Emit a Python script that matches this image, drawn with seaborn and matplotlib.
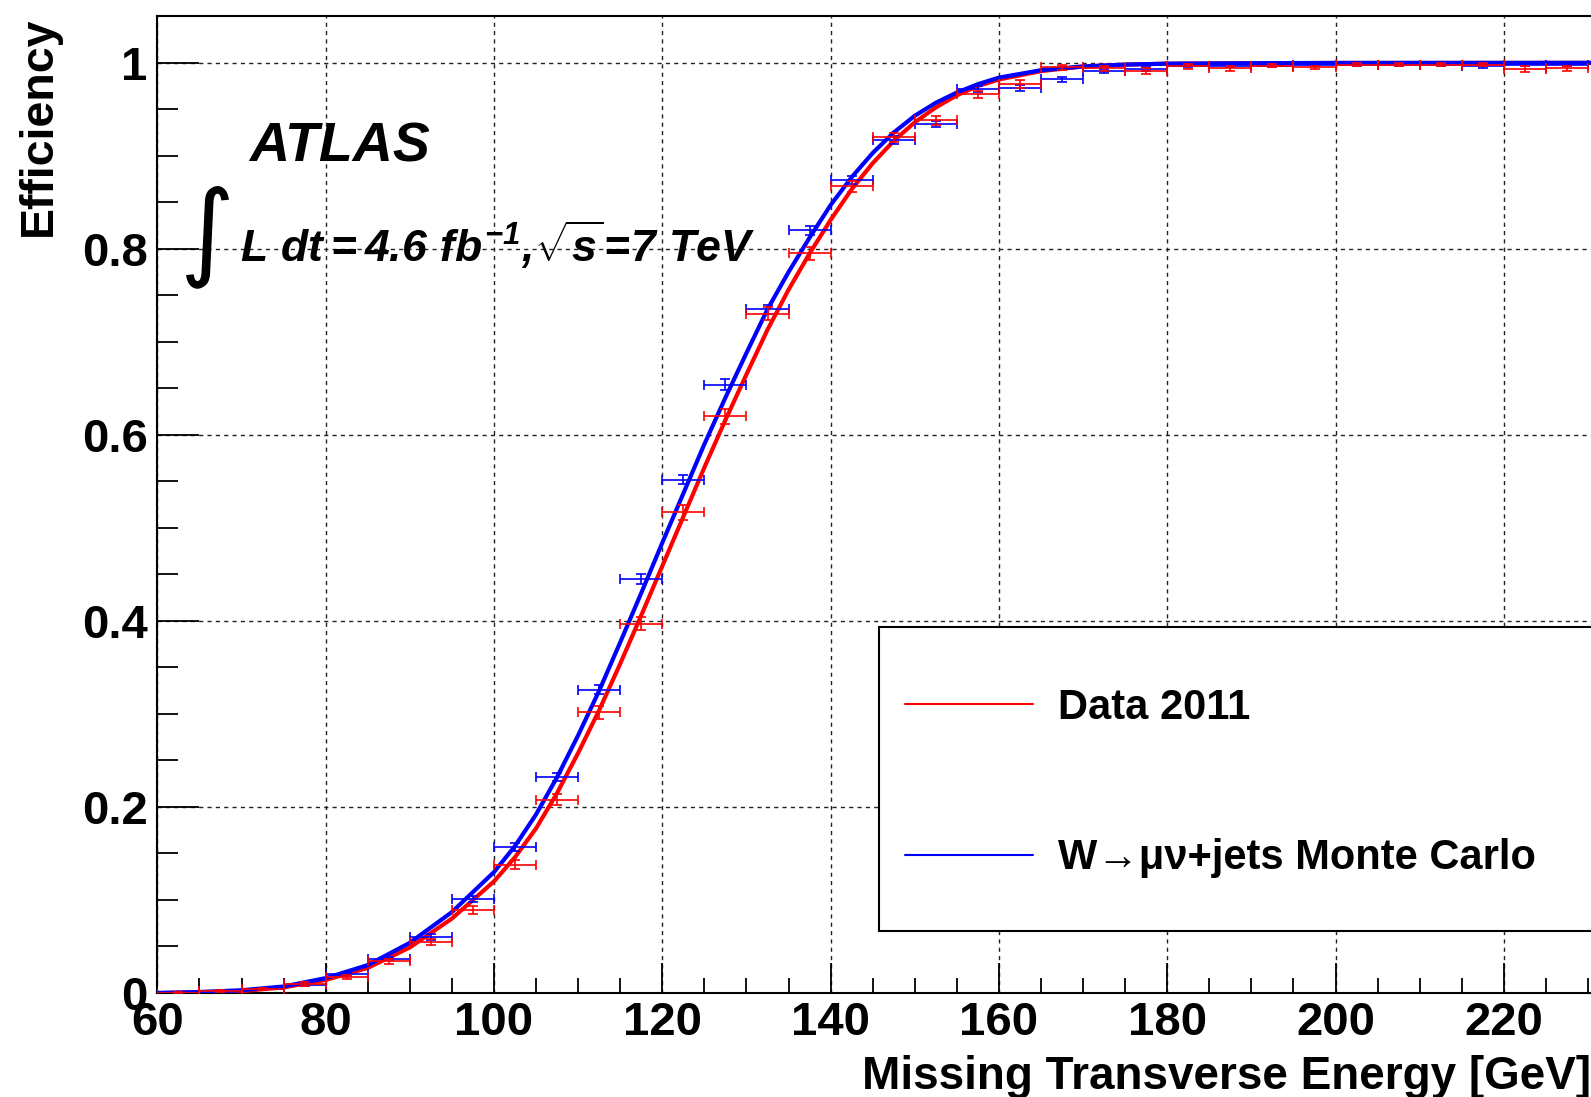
import numpy as np
import pandas as pd
import seaborn as sns
import matplotlib
matplotlib.use("Agg")
import matplotlib.pyplot as plt
from matplotlib.lines import Line2D
from matplotlib.patches import Rectangle
from matplotlib.ticker import MultipleLocator

# ---- measured trigger efficiency, 5 GeV bins ----
bin_centers = [62.5, 67.5, 72.5, 77.5, 82.5, 87.5, 92.5, 97.5, 102.5, 107.5,
               112.5, 117.5, 122.5, 127.5, 132.5, 137.5, 142.5, 147.5, 152.5, 157.5,
               162.5, 167.5, 172.5, 177.5, 182.5, 187.5, 192.5, 197.5, 202.5, 207.5,
               212.5, 217.5, 222.5, 227.5]
bin_half_width = 2.5

data_eff = [0.0005, 0.002, 0.004, 0.010, 0.017, 0.034, 0.055, 0.089, 0.138, 0.208,
            0.302, 0.397, 0.517, 0.620, 0.730, 0.795, 0.867, 0.920, 0.938, 0.966,
            0.977, 0.995, 0.994, 0.991, 0.996, 0.994, 0.997, 0.995, 0.998, 0.998,
            0.998, 0.998, 0.993, 0.994]
data_err = [0.001, 0.001, 0.001, 0.002, 0.002, 0.003, 0.003, 0.004, 0.005, 0.006,
            0.007, 0.007, 0.008, 0.008, 0.007, 0.007, 0.006, 0.005, 0.005, 0.004,
            0.004, 0.003, 0.003, 0.003, 0.003, 0.003, 0.002, 0.002, 0.002, 0.002,
            0.002, 0.002, 0.003, 0.003]

mc_eff = [0.0005, 0.002, 0.004, 0.009, 0.020, 0.037, 0.060, 0.101, 0.157, 0.232,
          0.326, 0.445, 0.552, 0.654, 0.735, 0.820, 0.874, 0.917, 0.934, 0.972,
          0.973, 0.982, 0.991, 0.993, 0.997, 0.997, 0.997, 0.998, 0.998, 0.998,
          0.998, 0.996, 0.998, 0.998]
mc_err = [0.001, 0.001, 0.001, 0.001, 0.002, 0.002, 0.003, 0.003, 0.004, 0.004,
          0.005, 0.005, 0.005, 0.006, 0.005, 0.005, 0.004, 0.004, 0.003, 0.003,
          0.003, 0.003, 0.002, 0.002, 0.002, 0.002, 0.002, 0.002, 0.002, 0.002,
          0.002, 0.002, 0.002, 0.002]

# ---- fitted turn-on curves ----
fit_met = [60, 65, 70, 75, 80, 85, 90, 95, 100, 102.5, 105, 107.5, 110, 112.5,
           115, 117.5, 120, 122.5, 125, 127.5, 130, 132.5, 135, 137.5, 140,
           142.5, 145, 147.5, 150, 152.5, 155, 157.5, 160, 165, 170, 175, 180,
           190, 200, 231]
data_fit = [0.000, 0.001, 0.002, 0.006, 0.014, 0.027, 0.049, 0.080, 0.120, 0.146,
            0.177, 0.215, 0.258, 0.304, 0.354, 0.406, 0.459, 0.512, 0.565, 0.616,
            0.665, 0.713, 0.756, 0.795, 0.831, 0.864, 0.892, 0.916, 0.936, 0.952,
            0.965, 0.975, 0.982, 0.991, 0.996, 0.998, 0.999, 0.9995, 0.9998, 0.9999]
mc_fit = [0.000, 0.001, 0.003, 0.007, 0.016, 0.030, 0.054, 0.087, 0.130, 0.158,
          0.192, 0.232, 0.277, 0.325, 0.377, 0.430, 0.484, 0.537, 0.590, 0.640,
          0.688, 0.735, 0.775, 0.812, 0.847, 0.877, 0.903, 0.925, 0.943, 0.957,
          0.968, 0.977, 0.984, 0.992, 0.996, 0.998, 0.999, 0.9995, 0.9998, 0.9999]

x_ticks = [60, 80, 100, 120, 140, 160, 180, 200, 220]
y_ticks = [0, 0.2, 0.4, 0.6, 0.8, 1.0]
y_tick_labels = ["0", "0.2", "0.4", "0.6", "0.8", "1"]

RED = "#ff0000"
BLUE = "#0000ff"

sns.set_theme(style="white")
plt.rcParams["font.family"] = ["Liberation Sans", "DejaVu Sans"]
plt.rcParams["font.weight"] = "bold"
for key in ("text.color", "axes.labelcolor", "xtick.color", "ytick.color",
            "axes.edgecolor"):
    plt.rcParams[key] = "black"
plt.rcParams["mathtext.fontset"] = "custom"
plt.rcParams["mathtext.rm"] = "Liberation Sans:bold:italic"
plt.rcParams["mathtext.it"] = "Liberation Sans:bold:italic"
plt.rcParams["mathtext.bf"] = "Liberation Sans:bold:italic"

fig = plt.figure(figsize=(15.91, 10.97), dpi=100)
ax = fig.add_axes([0.0989, 0.0948, 0.9011, 0.8904])

fits = pd.DataFrame({"met": fit_met * 2,
                     "eff": data_fit + mc_fit,
                     "sample": ["data"] * len(fit_met) + ["mc"] * len(fit_met)})
sns.lineplot(data=fits, x="met", y="eff", hue="sample",
             palette={"data": RED, "mc": BLUE}, linewidth=3.0,
             estimator=None, legend=False, ax=ax, zorder=3)

x_err = [bin_half_width] * len(bin_centers)
ax.errorbar(bin_centers, mc_eff, xerr=x_err, yerr=mc_err, fmt="none",
            ecolor=BLUE, elinewidth=1.2, capsize=3.6, capthick=1.2, zorder=4)
ax.errorbar(bin_centers, data_eff, xerr=x_err, yerr=data_err, fmt="none",
            ecolor=RED, elinewidth=1.2, capsize=3.6, capthick=1.2, zorder=4)

ax.set_xlim(60, 230.35)
ax.set_ylim(0, 1.05)
ax.set_xticks(x_ticks)
ax.set_yticks(y_ticks)
ax.set_yticklabels(y_tick_labels)
ax.xaxis.set_minor_locator(MultipleLocator(5))
ax.yaxis.set_minor_locator(MultipleLocator(0.05))

ax.grid(True, which="major", color="#222222", linestyle=(0, (3, 3)), linewidth=1.0)
ax.set_axisbelow(True)

ax.tick_params(axis="both", which="both", direction="in", colors="black",
               labelsize=34, bottom=True, left=True, top=False, right=False)
ax.tick_params(axis="x", which="major", length=21.6, width=1.3, pad=6)
ax.tick_params(axis="x", which="minor", length=10.8, width=1.3)
ax.tick_params(axis="y", which="major", length=30, width=1.3, pad=7)
ax.tick_params(axis="y", which="minor", length=15, width=1.3)
for lab in ax.get_xticklabels() + ax.get_yticklabels():
    lab.set_fontweight("bold")

for side in ("left", "bottom", "top"):
    ax.spines[side].set_visible(True)
    ax.spines[side].set_color("black")
    ax.spines[side].set_linewidth(1.5)
ax.spines["right"].set_visible(False)

ax.set_xlabel("Missing Transverse Energy [GeV]", fontsize=33, fontweight="bold",
              loc="right", labelpad=7)
ax.set_ylabel("Efficiency", fontsize=33.5, fontweight="bold", loc="top", labelpad=15)

# legend box
frame = Rectangle((879 / 1591, 1 - 931 / 1097), 0.5, 304 / 1097,
                  transform=fig.transFigure, facecolor="white", edgecolor="black",
                  linewidth=1.5, zorder=6, clip_on=False)
ax.add_patch(frame)
handles = [Line2D([], [], color=RED, linewidth=1.5),
           Line2D([], [], color=BLUE, linewidth=1.5)]
leg = ax.legend(handles, ["Data 2011", "W\u2192\u03bc\u03bd+jets Monte Carlo"],
                loc="upper left", bbox_to_anchor=(905 / 1591, 1 - 688 / 1097),
                bbox_transform=fig.transFigure, frameon=False, fontsize=30,
                borderpad=0, borderaxespad=0, handlelength=3.07,
                handletextpad=0.6, labelspacing=2.65)
leg.set_zorder(7)
for t in leg.get_texts():
    t.set_fontweight("bold")

# experiment labels
fig.text(249 / 1591, 1 - 162 / 1097, "ATLAS", fontsize=40, fontweight="bold",
         fontstyle="italic", va="baseline", ha="left")
fig.text(207 / 1591, 1 - 237 / 1097, "\u222b", fontsize=76, fontweight="normal",
         family=["DejaVu Sans"], va="center", ha="center")
fig.text(240 / 1591, 1 - 262 / 1097,
         r"$L\ dt=4.6\ fb^{-1},\!\sqrt{s}\!=\!7\ TeV$",
         fontsize=32, va="baseline", ha="left")

fig.savefig("out.png", dpi=100)
